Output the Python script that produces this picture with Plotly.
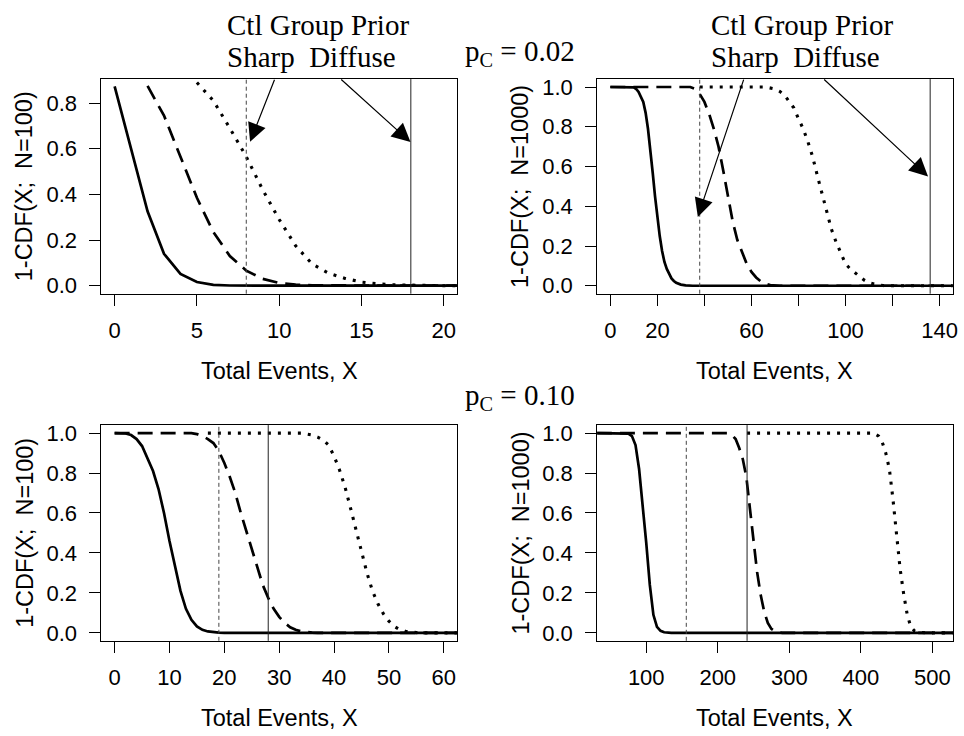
import plotly.graph_objects as go

W, H = 964, 736
SANS = "Liberation Sans, Arial, sans-serif"
SERIF = "Liberation Serif, Times New Roman, serif"

# ---------------- data ----------------
# Top-left: pC = 0.02, N = 100
tl_x_solid = list(range(0, 22))
tl_solid = [0.873, 0.60, 0.326, 0.14, 0.052, 0.016, 0.004, 0.001, 0, 0, 0,
            0, 0, 0, 0, 0, 0, 0, 0, 0, 0, 0]
tl_x_dashed = list(range(2, 22))
tl_dashed = [0.875, 0.745, 0.565, 0.385, 0.235, 0.13, 0.066, 0.03, 0.012, 0.005,
             0.002, 0.001, 0, 0, 0, 0, 0, 0, 0, 0]
tl_x_dotted = list(range(5, 22))
tl_dotted = [0.89, 0.81, 0.69, 0.565, 0.42, 0.29, 0.175, 0.095, 0.055, 0.032,
             0.016, 0.008, 0.004, 0.002, 0.001, 0, 0]

# Top-right: pC = 0.02, N = 1000
tr_x_solid = [0, 8, 10, 11, 12, 14, 15, 16, 17, 18, 19, 20, 21, 22, 23, 24, 25,
              26, 27, 28, 30, 32, 35, 150]
tr_solid = [1, 1, 0.998, 0.99, 0.975, 0.925, 0.87, 0.79, 0.69, 0.57, 0.45, 0.34,
            0.25, 0.175, 0.12, 0.085, 0.057, 0.037, 0.024, 0.015, 0.006, 0.002, 0, 0]
tr_x_dashed = [0, 34, 36, 38, 40, 42, 44, 46, 48, 50, 52, 54, 56, 58, 60, 62, 64,
               66, 68, 70, 72, 150]
tr_dashed = [1, 1, 0.99, 0.965, 0.925, 0.865, 0.79, 0.70, 0.58, 0.455, 0.325, 0.23,
             0.165, 0.11, 0.07, 0.042, 0.022, 0.01, 0.004, 0.002, 0, 0]
tr_x_dotted = [38, 66, 70, 72, 74, 76, 78, 80, 82, 84, 86, 88, 90, 92, 94, 96, 98,
               100, 102, 104, 106, 108, 110, 112, 114, 116, 118, 150]
tr_dotted = [1, 1, 0.99, 0.978, 0.96, 0.93, 0.895, 0.84, 0.79, 0.725, 0.65, 0.555,
             0.46, 0.37, 0.285, 0.22, 0.165, 0.11, 0.085, 0.065, 0.045, 0.028,
             0.015, 0.007, 0.003, 0.001, 0, 0]

# Bottom-left: pC = 0.10, N = 100
bl_x_solid = list(range(0, 21)) + [63]
bl_solid = [1.0, 1.0, 0.998, 0.99, 0.97, 0.935, 0.875, 0.81, 0.72, 0.60, 0.46,
            0.33, 0.21, 0.12, 0.065, 0.032, 0.015, 0.007, 0.003, 0.001, 0, 0]
bl_x_dashed = [0, 14] + list(range(15, 38)) + [63]
bl_dashed = [1, 1, 0.995, 0.985, 0.97, 0.95, 0.91, 0.85, 0.78, 0.70, 0.60, 0.51,
             0.415, 0.32, 0.24, 0.175, 0.12, 0.08, 0.05, 0.028, 0.015, 0.007,
             0.003, 0.001, 0, 0]
bl_x_dotted = [17, 34] + list(range(35, 57)) + [63]
bl_dotted = [1, 1, 0.995, 0.99, 0.98, 0.965, 0.94, 0.885, 0.815, 0.73, 0.625,
             0.515, 0.405, 0.30, 0.21, 0.145, 0.095, 0.058, 0.032, 0.016, 0.008,
             0.003, 0.001, 0, 0]

# Bottom-right: pC = 0.10, N = 1000
br_x_solid = [31, 70, 75, 80, 85, 90, 95, 100, 105, 110, 115, 120, 125, 130, 135, 530]
br_solid = [1, 1, 0.997, 0.985, 0.94, 0.82, 0.65, 0.45, 0.24, 0.09, 0.03, 0.01,
            0.003, 0.001, 0, 0]
br_x_dashed = [31, 215, 220, 225, 230, 235, 240, 245, 250, 255, 260, 265, 270, 275,
               280, 285, 290, 530]
br_dashed = [1, 1, 0.99, 0.97, 0.925, 0.87, 0.78, 0.63, 0.46, 0.305, 0.19, 0.105,
             0.05, 0.02, 0.007, 0.002, 0, 0]
br_x_dotted = [241, 418, 425, 430, 435, 440, 445, 450, 455, 460, 465, 470, 475, 480,
               485, 490, 530]
br_dotted = [1, 1, 0.985, 0.955, 0.90, 0.82, 0.67, 0.49, 0.32, 0.195, 0.09, 0.03,
             0.01, 0.003, 0.001, 0, 0]

# Control-group prior reference lines (Sharp = dashed, Diffuse = solid): TL, TR, BL, BR
sharp_lines = [8, 38, 19, 156]
diffuse_lines = [18, 136, 28, 241]

# Tick values / labels (unlabelled ticks drawn as minor ticks)
tl_xticks = [0, 5, 10, 15, 20]
tr_xticks = [0, 20, 60, 100, 140]
tr_xticks_unlabelled = [40, 80, 120]
bl_xticks = [0, 10, 20, 30, 40, 50, 60]
br_xticks = [100, 200, 300, 400, 500]
y_ticks_small = [0.0, 0.2, 0.4, 0.6, 0.8]
y_ticks_full = [0.0, 0.2, 0.4, 0.6, 0.8, 1.0]

x_ranges = [[-0.8, 20.8], [-5.6, 145.6], [-2.4, 62.4], [31.4, 528.6]]
y_ranges = [[-0.035, 0.905], [-0.04, 1.04], [-0.04, 1.04], [-0.04, 1.04]]

y_titles = ["1-CDF(X;\u00a0\u00a0N=100)", "1-CDF(X;\u00a0\u00a0N=1000)",
            "1-CDF(X;\u00a0\u00a0N=100)", "1-CDF(X;\u00a0\u00a0N=1000)"]
x_title = "Total Events, X"
pc_labels = ["p<sub>C</sub> = 0.02", "p<sub>C</sub> = 0.10"]

# Arrow endpoints (tip x, tip y, tail x, tail y) for Sharp / Diffuse, top panels
arrows_tl = [(8.23, 0.630, 9.75, 0.909), (17.98, 0.629, 13.68, 0.909)]
arrows_tr = [(37.2, 0.346, 56.9, 1.045), (135.1, 0.55, 90.3, 1.045)]

# ---------------- layout geometry (pixels) ----------------
col_px = [(102, 459.3), (600.3, 957.7)]
row_px = [(76, 293.3), (426.3, 644.7)]

def px2x(p):
    return p / W

def py2y(p):
    return 1 - p / H

fig = go.Figure()

panels = [
    (tl_x_solid, tl_solid, tl_x_dashed, tl_dashed, tl_x_dotted, tl_dotted),
    (tr_x_solid, tr_solid, tr_x_dashed, tr_dashed, tr_x_dotted, tr_dotted),
    (bl_x_solid, bl_solid, bl_x_dashed, bl_dashed, bl_x_dotted, bl_dotted),
    (br_x_solid, br_solid, br_x_dashed, br_dashed, br_x_dotted, br_dotted),
]
xticks = [tl_xticks, tr_xticks, bl_xticks, br_xticks]
minor_x = [None, tr_xticks_unlabelled, None, None]
yticks = [y_ticks_small, y_ticks_full, y_ticks_full, y_ticks_full]

styles = [dict(dash="solid", width=2.7), dict(dash="15px,8px", width=2.7),
          dict(dash="3px,7px", width=3.1)]

axis_common = dict(
    showline=True, linecolor="black", linewidth=1, mirror=True,
    ticks="outside", ticklen=11, tickwidth=1, tickcolor="black",
    showgrid=False, zeroline=False,
    tickfont=dict(family=SANS, size=22, color="black"),
)

annotations = []
shapes = []
for i, pdata in enumerate(panels):
    r, c = divmod(i, 2)
    xa = "x" if i == 0 else f"x{i+1}"
    ya = "y" if i == 0 else f"y{i+1}"
    for k in range(3):
        fig.add_trace(go.Scatter(
            x=pdata[2 * k], y=pdata[2 * k + 1], mode="lines",
            line=dict(color="black", **styles[k]),
            xaxis=xa, yaxis=ya, showlegend=False, hoverinfo="skip"))
    xd = [px2x(col_px[c][0]), px2x(col_px[c][1])]
    yd = [py2y(row_px[r][1]), py2y(row_px[r][0])]
    xaxis_def = dict(
        domain=xd, range=x_ranges[i], anchor=ya, tickmode="array",
        tickvals=xticks[i], ticktext=[str(v) for v in xticks[i]],
        ticklabelstandoff=6, **axis_common)
    if minor_x[i]:
        xaxis_def["minor"] = dict(tickmode="array", tickvals=minor_x[i],
                                  ticks="outside", ticklen=11, tickwidth=1,
                                  tickcolor="black", showgrid=False)
    fig.layout[("xaxis" if i == 0 else f"xaxis{i+1}")] = xaxis_def
    fig.layout[("yaxis" if i == 0 else f"yaxis{i+1}")] = dict(
        domain=yd, range=y_ranges[i], anchor=xa, tickmode="array",
        tickvals=yticks[i], ticktext=[f"{v:.1f}" for v in yticks[i]],
        ticklabelstandoff=8, **axis_common)
    # reference lines
    shapes.append(dict(type="line", xref=xa, yref=f"{ya} domain",
                       x0=sharp_lines[i], x1=sharp_lines[i], y0=0, y1=1,
                       line=dict(color="#444", width=1, dash="4px,3px")))
    shapes.append(dict(type="line", xref=xa, yref=f"{ya} domain",
                       x0=diffuse_lines[i], x1=diffuse_lines[i], y0=0, y1=1,
                       line=dict(color="#222", width=1)))
    # axis titles
    annotations.append(dict(
        text=y_titles[i], xref="paper", yref="paper",
        x=px2x(col_px[c][0] - 77), y=py2y((row_px[r][0] + row_px[r][1]) / 2),
        xanchor="center", yanchor="middle", textangle=-90, showarrow=False,
        font=dict(family=SANS, size=23.5, color="black")))
    annotations.append(dict(
        text=x_title, xref="paper", yref="paper",
        x=px2x((col_px[c][0] + col_px[c][1]) / 2), y=py2y(row_px[r][1] + 78.5),
        xanchor="center", yanchor="middle", showarrow=False,
        font=dict(family=SANS, size=23.5, color="black")))

# arrows in the top panels
for xa, ya, arrs in (("x", "y", arrows_tl), ("x2", "y2", arrows_tr)):
    for (hx, hy, tx, ty) in arrs:
        annotations.append(dict(
            x=hx, y=hy, ax=tx, ay=ty, xref=xa, yref=ya, axref=xa, ayref=ya,
            text="", showarrow=True, arrowhead=2, arrowsize=3.1,
            arrowwidth=1.2, arrowcolor="black", standoff=0, startstandoff=0))

# "Ctl Group Prior / Sharp  Diffuse" headings
for left in (228.3, 714.3):
    annotations.append(dict(
        text="Ctl Group Prior", xref="paper", yref="paper",
        x=px2x(left - 2), y=py2y(21), xanchor="left", yanchor="middle",
        showarrow=False, font=dict(family=SERIF, size=29, color="black")))
    annotations.append(dict(
        text="Sharp\u00a0\u00a0Diffuse", xref="paper", yref="paper",
        x=px2x(left - 2), y=py2y(53.5), xanchor="left", yanchor="middle",
        showarrow=False, font=dict(family=SERIF, size=29, color="black")))

# p_C labels
for lab, base in zip(pc_labels, (58.3, 406.7)):
    annotations.append(dict(
        text=lab, xref="paper", yref="paper",
        x=px2x(523), y=py2y(base - 9), xanchor="center", yanchor="middle",
        showarrow=False, font=dict(family=SERIF, size=29, color="black")))

fig.update_layout(
    width=W, height=H, margin=dict(l=0, r=0, t=0, b=0),
    paper_bgcolor="white", plot_bgcolor="white",
    annotations=annotations, shapes=shapes, showlegend=False,
)

fig.write_html("out.html", config={"displayModeBar": False},
               post_script="document.body.style.margin='0px';")
